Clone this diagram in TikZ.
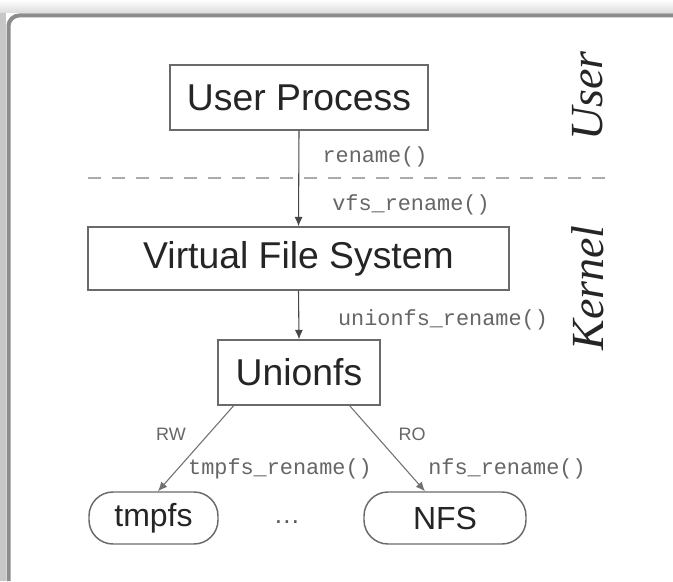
\documentclass[tikz,border=0pt]{standalone}
\usepackage{fontspec}
\setmainfont{Liberation Serif}
\setsansfont{Liberation Sans}
\setmonofont{Liberation Mono}
\usetikzlibrary{arrows.meta,calc}
\definecolor{framegray}{HTML}{8C8C8C}
\definecolor{boxline}{HTML}{6A6A6A}
\definecolor{inkdark}{HTML}{252525}
\definecolor{monoink}{HTML}{666666}
\definecolor{dashgray}{HTML}{ABABAB}
\tikzset{
  fsbox/.style={draw=boxline, line width=1.1pt, inner sep=0pt, text=inkdark,
    font=\sffamily\fontsize{28}{30}\selectfont},
  leafbox/.style={draw=boxline, line width=1.1pt, inner sep=0pt, text=inkdark,
    rounded corners=18pt, font=\sffamily\fontsize{24}{26}\selectfont},
  fnlabel/.style={inner sep=0pt, text=monoink, font=\ttfamily\fontsize{16.4}{18}\selectfont},
  modelabel/.style={inner sep=0pt, text=monoink, font=\sffamily\fontsize{13.5}{15}\selectfont},
  spacelabel/.style={inner sep=0pt, rotate=90, text=inkdark, font=\itshape\fontsize{34.5}{36}\selectfont},
  callarrow/.style={draw=inkdark!85, line width=0.8pt, -{Latex[length=7pt,width=6pt]}},
  diagarrow/.style={draw=inkdark!65, line width=0.8pt, -{Latex[length=7pt,width=6pt]}}
}
\begin{document}
\begin{tikzpicture}[x=0.75pt,y=-0.75pt]
\useasboundingbox (0,0) rectangle (673,581);
\fill[white] (0,0) rectangle (673,581);
% shadow strips around the frame
\shade[top color=white, bottom color=black!14] (0,0) rectangle (673,13);
\fill[black!22] (0,13) rectangle (6,581);
% frame
\draw[framegray, line width=3pt, rounded corners=8pt] (8.5,581) -- (8.5,15.5) -- (673,15.5);

% boxes
\node[fsbox, minimum width=193.5pt, minimum height=48.75pt] (up) at (299,97.5) {User Process};
\node[fsbox, minimum width=315.75pt, minimum height=47.25pt] (vfs) at (298.5,258.5) {Virtual File System};
\node[fsbox, minimum width=121.5pt, minimum height=48.75pt] (uni) at (299,372.5) {Unionfs};
\node[leafbox, minimum width=96.75pt, minimum height=39pt] (tmpfs) at (153.5,518) {tmpfs};
\node[leafbox, minimum width=121.5pt, minimum height=39pt] (nfs) at (445,518) {NFS};
\node[inner sep=0pt, text=inkdark!75, font=\sffamily\fontsize{20}{22}\selectfont] (dots) at (287,522) {\ldots};

% user/kernel boundary
\coordinate (bl) at (88,178);
\coordinate (br) at (610,178);
\draw[dashgray, line width=1.6pt, dash pattern=on 9.75pt off 8.25pt] (bl) -- (br);

% connectors
\draw[callarrow] (up.south) -- (vfs.north);
\draw[callarrow] (vfs.south) -- (uni.north);
\coordinate (uw) at ($(uni.south west)!0.1!(uni.south east)$);
\coordinate (ue) at ($(uni.south west)!0.81!(uni.south east)$);
\coordinate (tn) at ($(tmpfs.north)+(4.5,0)$);
\coordinate (nn) at ($(nfs.north)+(-20,0)$);
\draw[diagarrow] (uw) -- (tn);
\draw[diagarrow] (ue) -- (nn);

% labels
\node[fnlabel] (l1) at (375,157) {rename()};
\node[fnlabel] (l2) at (411,205) {vfs\_rename()};
\node[fnlabel] (l3) at (443,320) {unionfs\_rename()};
\node[fnlabel] (l4) at (280,469) {tmpfs\_rename()};
\node[fnlabel] (l5) at (507,469) {nfs\_rename()};
\node[modelabel] (rw) at (171,434) {RW};
\node[modelabel] (ro) at (412,434) {RO};
\node[spacelabel] (us) at (588,96) {User};
\node[spacelabel] (ks) at (588,288) {Kernel};
\end{tikzpicture}
\end{document}
